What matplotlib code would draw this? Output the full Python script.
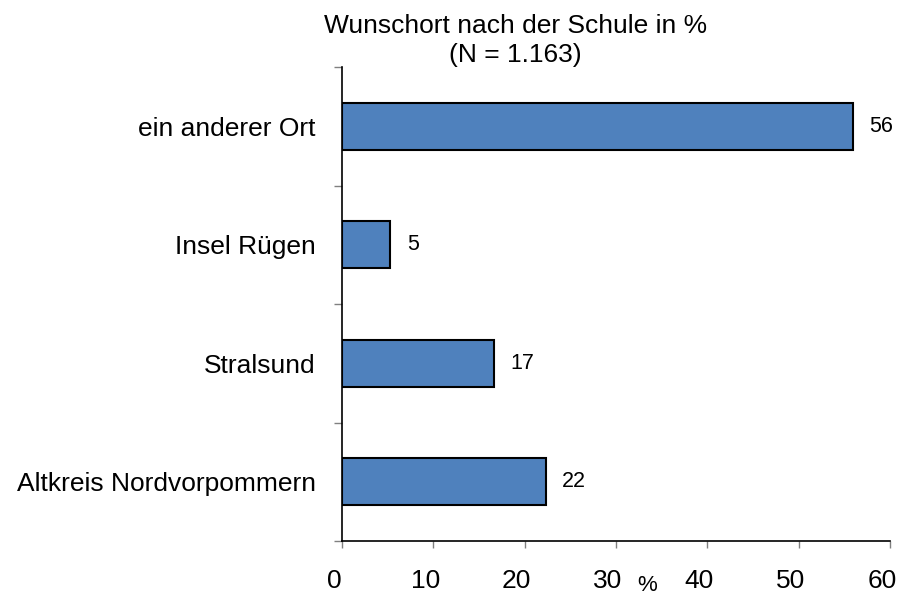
import matplotlib
matplotlib.use("Agg")
import matplotlib.pyplot as plt
import matplotlib.transforms as mtransforms
import numpy as np

# data (bottom to top)
categories = ["Altkreis Nordvorpommern", "Stralsund", "Insel Rügen", "ein anderer Ort"]
values = [22.3, 16.6, 5.3, 55.9]
value_labels = ["22", "17", "5", "56"]
x_ticks = [0, 10, 20, 30, 40, 50, 60]

plt.rcParams['font.family'] = ['Liberation Sans', 'DejaVu Sans']

W, H = 901, 598
fig = plt.figure(figsize=(W / 100, H / 100), dpi=100)
ax = fig.add_axes([342 / W, 1 - 541 / H, (890 - 342) / W, (541 - 67) / H])

y = np.arange(len(categories))
ax.barh(y, values, height=0.4, color="#4F81BD", edgecolor="black", linewidth=1.5, zorder=3)

for yi, v, lab in zip(y, values, value_labels):
    ax.annotate(lab, (v, yi), xytext=(12, 0), textcoords="offset points",
                ha="left", va="center", fontsize=15.5)

ax.set_xlim(0, 60)
ax.set_ylim(-0.5, len(categories) - 0.5)

ax.set_xticks(x_ticks)
ax.set_xticklabels([str(t) for t in x_ticks], fontsize=19)
ax.tick_params(axis="x", length=5, width=1, color="#808080", pad=15)
# tick labels sit slightly left of their ticks in the original
offset = mtransforms.ScaledTranslation(-8 / 100, 0, fig.dpi_scale_trans)
for lbl in ax.get_xticklabels():
    lbl.set_transform(lbl.get_transform() + offset)

ax.set_yticks(y)
ax.set_yticklabels(categories, fontsize=19)
ax.tick_params(axis="y", which="major", length=0, pad=19)
ax.set_yticks(np.arange(-0.5, len(categories)), minor=True)
ax.tick_params(axis="y", which="minor", length=6, width=1, color="#808080")

for s in ["top", "right"]:
    ax.spines[s].set_visible(False)
ax.spines["left"].set_linewidth(1.2)
ax.spines["bottom"].set_linewidth(1.2)

# title (not centered on the axes)
fig.text(515.5 / W, 1 - 33 / H, "Wunschort nach der Schule in %", ha="center", va="baseline", fontsize=19)
fig.text(515.5 / W, 1 - 62 / H, "(N = 1.163)", ha="center", va="baseline", fontsize=19)

# axis unit label, sitting low between the 30 and 40 labels
fig.text(647 / W, 2 / H, "%", ha="center", va="bottom", fontsize=16)

fig.savefig("out.png", dpi=100)
